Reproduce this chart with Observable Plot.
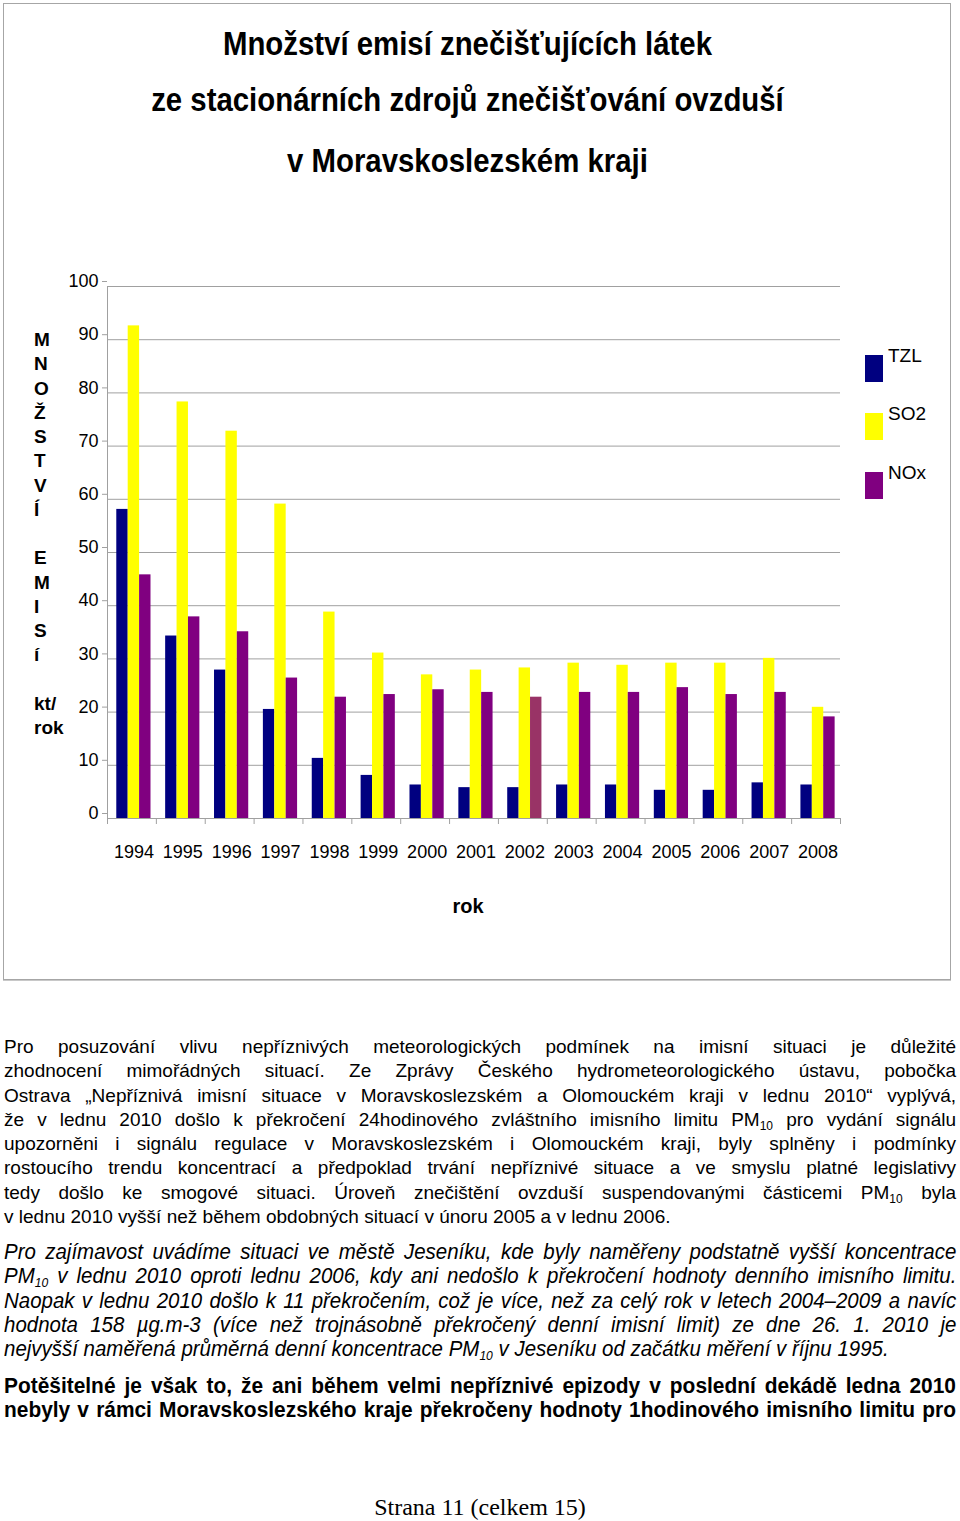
<!DOCTYPE html>
<html><head><meta charset="utf-8">
<script src="https://cdn.jsdelivr.net/npm/d3@7"></script>
<script src="https://cdn.jsdelivr.net/npm/@observablehq/plot@0.6"></script>
<style>
html,body{margin:0;padding:0;background:#fff;}
body{width:960px;height:1521px;position:relative;overflow:hidden;font-family:"Liberation Sans",Arial,sans-serif;color:#000;}
#frame{position:absolute;left:3px;top:3px;width:946px;height:975px;border:1px solid #a6a6a6;box-shadow:0 1px 0 #c8c8c8;}
.title{position:absolute;left:0;width:935px;text-align:center;font-weight:bold;font-size:33px;line-height:33px;white-space:nowrap;transform:scaleX(0.89);transform-origin:467px 0;}
#ytitle{position:absolute;left:34px;top:328px;font-weight:bold;font-size:19px;line-height:24.25px;}
#chart{position:absolute;left:0;top:260px;}
#xtitle{position:absolute;left:418px;width:100px;top:894px;text-align:center;font-weight:bold;font-size:20px;line-height:24px;}
.leg{position:absolute;left:865px;width:18px;height:27px;}
.legl{position:absolute;left:888px;font-size:19px;line-height:22px;}
.para{position:absolute;left:4px;width:952px;}
.para div{text-align:justify;text-align-last:justify;height:24.25px;line-height:24.25px;}
.para div.last{text-align-last:left;}
#p1{top:1035px;font-size:19px;}
.narrow{transform-origin:0 0;font-size:22px;}
#p2{top:1240px;font-style:italic;width:1024px;transform:scaleX(0.93);}
#p3{top:1374px;font-weight:bold;width:1002px;transform:scaleX(0.95);}
.s{font-size:12px;position:relative;top:4px;line-height:0;}
.narrow .s{font-size:13px;}
#footer{position:absolute;left:0;width:960px;top:1494px;text-align:center;font-family:"Liberation Serif","Times New Roman",serif;font-size:24px;line-height:26px;}
</style>
</head><body>
<div id="frame"></div>
<div class="title" style="top:27px">Množství emisí znečišťujících látek</div>
<div class="title" style="top:83px">ze stacionárních zdrojů znečišťování ovzduší</div>
<div class="title" style="top:144px">v Moravskoslezském kraji</div>
<div id="ytitle">M<br>N<br>O<br>Ž<br>S<br>T<br>V<br>Í<br>&nbsp;<br>E<br>M<br>I<br>S<br>í<br>&nbsp;<br>kt/<br>rok</div>
<div id="chart"></div>
<div id="xtitle">rok</div>
<div id="legend"></div>

<div class="para" id="p1">
<div>Pro posuzování vlivu nepříznivých meteorologických podmínek na imisní situaci je důležité</div>
<div>zhodnocení mimořádných situací. Ze Zprávy Českého hydrometeorologického ústavu, pobočka</div>
<div>Ostrava „Nepříznivá imisní situace v Moravskoslezském a Olomouckém kraji v lednu 2010“ vyplývá,</div>
<div>že v lednu 2010 došlo k překročení 24hodinového zvláštního imisního limitu PM<span class="s">10</span> pro vydání signálu</div>
<div>upozorněni i signálu regulace v Moravskoslezském i Olomouckém kraji, byly splněny i podmínky</div>
<div>rostoucího trendu koncentrací a předpoklad trvání nepříznivé situace a ve smyslu platné legislativy</div>
<div>tedy došlo ke smogové situaci. Úroveň znečištění ovzduší suspendovanými částicemi PM<span class="s">10</span> byla</div>
<div class="last">v lednu 2010 vyšší než během obdobných situací v únoru 2005 a v lednu 2006.</div>
</div>
<div class="para narrow" id="p2">
<div>Pro zajímavost uvádíme situaci ve městě Jeseníku, kde byly naměřeny podstatně vyšší koncentrace</div>
<div>PM<span class="s">10</span> v lednu 2010 oproti lednu 2006, kdy ani nedošlo k překročení hodnoty denního imisního limitu.</div>
<div>Naopak v lednu 2010 došlo k 11 překročením, což je více, než za celý rok v letech 2004–2009 a navíc</div>
<div>hodnota 158 µg.m-3 (více než trojnásobně překročený denní imisní limit) ze dne 26. 1. 2010 je</div>
<div class="last">nejvyšší naměřená průměrná denní koncentrace PM<span class="s">10</span> v Jeseníku od začátku měření v říjnu 1995.</div>
</div>
<div class="para narrow" id="p3">
<div>Potěšitelné je však to, že ani během velmi nepříznivé epizody v poslední dekádě ledna 2010</div>
<div>nebyly v rámci Moravskoslezského kraje překročeny hodnoty 1hodinového imisního limitu pro</div>
</div>
<div id="footer">Strana 11 (celkem 15)</div>

<script>
// ---- data ----
const years = [1994,1995,1996,1997,1998,1999,2000,2001,2002,2003,2004,2005,2006,2007,2008];
const series = ["TZL","SO2","NOx"];
const tzl = [58.1,34.3,27.9,20.5,11.3,8.1,6.3,5.8,5.8,6.3,6.3,5.3,5.3,6.7,6.3];
const so2 = [92.6,78.3,72.8,59.1,38.8,31.1,27.0,27.9,28.3,29.2,28.8,29.2,29.2,30.1,20.9];
const nox = [45.8,37.9,35.1,26.4,22.8,23.3,24.2,23.7,22.8,23.7,23.7,24.6,23.3,23.7,19.1];
const yTicks = [0,10,20,30,40,50,60,70,80,90,100];

// ---- styles ----
const colors = ["#000080","#FFFF00","#800080"];
const oddBar = {year: 2002, series: "NOx", color: "#993366"};
const groupWidth = 0.70;
const groupShift = 0.04;
const barW = groupWidth / series.length;
const gridColor = "#a0a0a0";

const values = [tzl, so2, nox];
const rows = years.flatMap((yr, i) => series.map((s, k) => ({year: yr, series: s, k, value: values[k][i]})));
const bounds = [...years.map(y => y - 0.5), years[years.length - 1] + 0.5];

const chart = Plot.plot({
  width: 860,
  height: 620,
  marginLeft: 107,
  marginRight: 20,
  marginTop: 26,
  marginBottom: 62,
  style: {fontFamily: "'Liberation Sans', Arial, sans-serif", fontSize: "18px", color: "#000", background: "transparent"},
  x: {type: "linear", domain: [bounds[0], bounds[bounds.length - 1]]},
  y: {type: "linear", domain: [0, 100]},
  marks: [
    Plot.gridY(yTicks, {stroke: gridColor, strokeOpacity: 1}),
    Plot.rectY(rows, {
      x1: d => d.year + groupShift - groupWidth / 2 + d.k * barW,
      x2: d => d.year + groupShift - groupWidth / 2 + (d.k + 1) * barW,
      y1: 0,
      y2: "value",
      fill: d => (d.year === oddBar.year && d.series === oddBar.series) ? oddBar.color : colors[d.k],
      inset: 0
    }),
    Plot.ruleX([bounds[0]], {stroke: gridColor}),
    Plot.ruleY([0], {stroke: gridColor}),
    Plot.axisY({ticks: yTicks, tickSize: 5, tickPadding: 4, dy: -5, stroke: gridColor, label: null, fontSize: 18, fill: "#000"}),
    Plot.axisX({ticks: bounds, tickSize: 6, tickFormat: () => "", stroke: gridColor, label: null}),
    Plot.axisX({ticks: years, tickSize: 0, tickPadding: 27, dx: 2, tickFormat: d => String(d), label: null, fontSize: 18, fill: "#000"})
  ]
});
document.getElementById("chart").appendChild(chart);

// legend
const legTop = [355, 413, 472];
const legend = document.getElementById("legend");
series.forEach((s, k) => {
  const sw = document.createElement("div");
  sw.className = "leg";
  sw.style.top = legTop[k] + "px";
  sw.style.background = colors[k];
  legend.appendChild(sw);
  const lb = document.createElement("div");
  lb.className = "legl";
  lb.style.top = (legTop[k] - 10) + "px";
  lb.textContent = s;
  legend.appendChild(lb);
});
</script>
</body></html>
